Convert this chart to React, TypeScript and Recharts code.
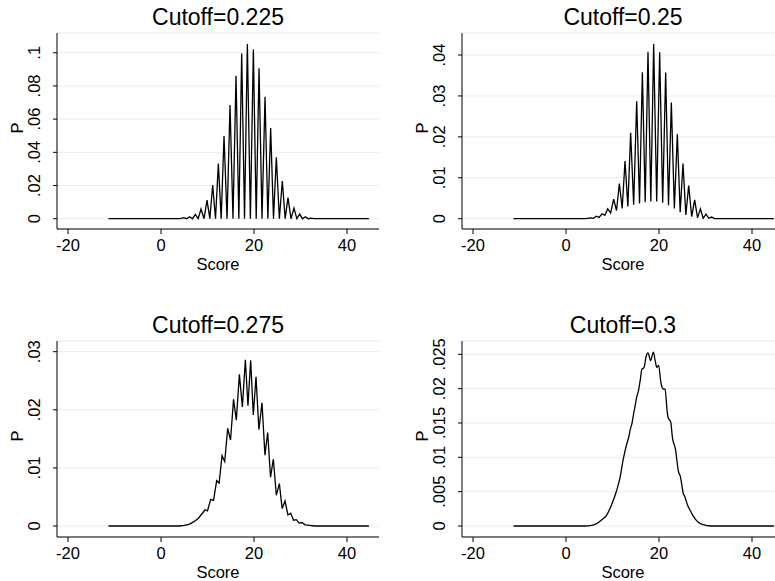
import React from "react";
import { LineChart, Line, XAxis, YAxis, CartesianGrid } from "recharts";

const FONT = '"Liberation Sans", Arial, sans-serif';

const xTicks = [-20, 0, 20, 40];

// Cutoff=0.225
const score225 = [
    -11.3, 4.2, 4.87, 5.5, 6.16, 6.77, 7.38, 7.99, 8.6, 9.25, 9.89, 10.5, 11.11, 11.72, 12.33, 12.94, 13.55,
    14.2, 14.84, 15.48, 16.13, 16.74, 17.35, 17.96, 18.57, 19.22, 19.86, 20.47, 21.08, 21.72, 22.37, 22.98,
    23.58, 24.19, 24.8, 25.45, 26.09, 26.7, 27.31, 27.95, 28.6, 29.21, 29.82, 30.43, 31.04, 31.65, 32.26, 32.9,
    44.7,
];
const p225 = [
    0, 0, 0.0006, 0, 0.0012, 0, 0.0026, 0, 0.0058, 0, 0.0112, 0, 0.0203, 0, 0.0333, 0, 0.0498, 0, 0.0685, 0,
    0.0861, 0, 0.0996, 0, 0.1052, 0, 0.102, 0, 0.0906, 0, 0.0735, 0, 0.0546, 0, 0.037, 0, 0.0227, 0, 0.0127, 0,
    0.0064, 0, 0.0028, 0, 0.0012, 0, 0.0004, 0, 0,
];
const yTicks225 = [0, 0.02, 0.04, 0.06, 0.08, 0.1];

// Cutoff=0.25
const score25 = [
    -11.3, 4.2, 5.3, 5.9, 6.5, 7.12, 7.74, 8.35, 8.96, 9.6, 10.25, 10.86, 11.47, 12.08, 12.69, 13.3, 13.9,
    14.55, 15.2, 15.81, 16.42, 17.03, 17.63, 18.24, 18.85, 19.5, 20.14, 20.79, 21.43, 22.04, 22.65, 23.3, 23.94,
    24.55, 25.16, 25.77, 26.38, 27.03, 27.67, 28.29, 28.9, 29.5, 30.1, 30.7, 31.3, 32, 44.7,
];
const p25 = [
    0, 0, 0.0002, 0.0001, 0.0006, 0.0003, 0.0012, 0.0008, 0.0024, 0.0014, 0.0048, 0.002, 0.0086, 0.0025, 0.0141,
    0.003, 0.021, 0.0034, 0.0287, 0.0037, 0.0358, 0.004, 0.0408, 0.0042, 0.0427, 0.0042, 0.0407, 0.0039, 0.0357,
    0.0033, 0.0284, 0.0025, 0.0206, 0.0016, 0.0135, 0.0009, 0.0081, 0.0005, 0.0046, 0.0002, 0.0024, 0.0001,
    0.0011, 0.0001, 0.0004, 0, 0,
];
const yTicks25 = [0, 0.01, 0.02, 0.03, 0.04];

// Cutoff=0.275
const score275 = [
    -11.3, 4, 5, 6, 7, 8, 8.9, 9.46, 10.0, 10.68, 11.3, 11.97, 12.5, 13.12, 13.7, 14.34, 14.95, 15.6, 16.2,
    16.85, 17.5, 18.14, 18.7, 19.28, 19.85, 20.43, 21.05, 21.72, 22.35, 22.94, 23.55, 24.16, 24.8, 25.45, 26.05,
    26.67, 27.3, 27.89, 28.5, 29.1, 29.7, 30.3, 31, 32, 33, 44.7,
];
const p275 = [
    0, 0, 0.0001, 0.0003, 0.0007, 0.0013, 0.0022, 0.0028, 0.0026, 0.0046, 0.0044, 0.0078, 0.0074, 0.0121,
    0.0111, 0.0168, 0.0148, 0.0218, 0.0182, 0.0261, 0.0205, 0.0286, 0.0207, 0.0285, 0.0191, 0.0257, 0.0166,
    0.0212, 0.0122, 0.0161, 0.0084, 0.0115, 0.0053, 0.0073, 0.003, 0.0043, 0.0019, 0.0022, 0.001, 0.0011,
    0.0005, 0.0006, 0.0002, 0.0001, 0, 0,
];
const yTicks275 = [0, 0.01, 0.02, 0.03];

// Cutoff=0.3
const score3 = [
    -11.3, 4, 5.5, 6.5, 7.7, 8.75, 9.8, 10.9, 11.6, 12.3, 13.0, 13.5, 13.8, 14.2, 14.5, 15.0, 15.2, 15.55, 16.0,
    16.3, 16.8, 17.2, 17.63, 18.2, 18.78, 19.2, 19.5, 19.9, 20.43, 20.8, 21.3, 21.8, 22.0, 22.5, 22.9, 23.5,
    24.2, 24.6, 25.2, 25.6, 26.1, 26.6, 27.4, 28.5, 29.5, 31, 44.7,
];
const p3 = [
    0, 0, 0.0001, 0.0003, 0.0009, 0.0016, 0.0031, 0.0052, 0.007, 0.0097, 0.0118, 0.013, 0.014, 0.015, 0.0162,
    0.018, 0.0188, 0.0196, 0.0214, 0.0228, 0.0231, 0.0246, 0.0252, 0.0241, 0.0253, 0.024, 0.0231, 0.0234,
    0.0208, 0.02, 0.0199, 0.0164, 0.0157, 0.0152, 0.0128, 0.0113, 0.0079, 0.0072, 0.0048, 0.0042, 0.0031,
    0.0024, 0.0014, 0.0005, 0.0002, 0, 0,
];
const yTicks3 = [0, 0.005, 0.01, 0.015, 0.02, 0.025];

const toRows = (xs: number[], ps: number[]) => xs.map((x, i) => ({ x, p: ps[i] }));

const fmt = (v: number) => (v === 0 ? "0" : String(v).replace(/^0\./, "."));

const YTick = (props: any) => {
    const { x, y, payload } = props;
    return (
        <text
            x={x}
            y={y}
            transform={`rotate(-90 ${x} ${y})`}
            textAnchor="middle"
            fontSize={16.5}
            fontFamily={FONT}
            fill="#000"
        >
            {fmt(payload.value)}
        </text>
    );
};

type PanelProps = {
    left: number;
    top: number;
    title: string;
    rows: { x: number; p: number }[];
    yDomain: [number, number];
    yTicks: number[];
    curve: "linear" | "monotone";
};

const Panel: React.FC<PanelProps> = ({ left, top, title, rows, yDomain, yTicks, curve }) => {
    return (
        <div style={{ position: "absolute", left, top, width: 400, height: 290 }}>
            <LineChart width={400} height={290} data={rows} margin={{ top: 33, right: 21, bottom: 0, left: 0 }}>
                <CartesianGrid vertical={false} stroke="#e6eef1" strokeWidth={1} />
                <XAxis
                    dataKey="x"
                    type="number"
                    domain={[-22.37, 46.88]}
                    ticks={xTicks}
                    allowDataOverflow
                    height={61}
                    tickSize={5}
                    tickMargin={5}
                    interval={0}
                    stroke="#000"
                    tick={{ fontSize: 16.5, fill: "#000", fontFamily: FONT }}
                />
                <YAxis
                    type="number"
                    domain={yDomain}
                    ticks={yTicks}
                    allowDataOverflow
                    width={57}
                    tickSize={4}
                    tickMargin={13}
                    interval={0}
                    stroke="#000"
                    tick={<YTick />}
                />
                <Line
                    type={curve}
                    dataKey="p"
                    stroke="#000"
                    strokeWidth={1.3}
                    dot={false}
                    isAnimationActive={false}
                />
            </LineChart>
            <svg
                width={400}
                height={290}
                style={{ position: "absolute", left: 0, top: 0, pointerEvents: "none" }}
                fontFamily={FONT}
            >
                <text x={218} y={25} textAnchor="middle" fontSize={23} fill="#000">
                    {title}
                </text>
                <text x={218} y={270} textAnchor="middle" fontSize={16.5} fill="#000">
                    Score
                </text>
                <text x={23} y={128} transform="rotate(-90 23 128)" textAnchor="middle" fontSize={16.5} fill="#000">
                    P
                </text>
            </svg>
        </div>
    );
};

const App: React.FC = () => {
    return (
        <div
            style={{
                position: "absolute",
                left: 0,
                top: 0,
                width: 775,
                height: 581,
                overflow: "hidden",
                background: "#fff",
                fontFamily: FONT,
            }}
        >
            <Panel
                left={0}
                top={0}
                title="Cutoff=0.225"
                rows={toRows(score225, p225)}
                yDomain={[-0.0062, 0.1119]}
                yTicks={yTicks225}
                curve="linear"
            />
            <Panel
                left={405}
                top={0}
                title="Cutoff=0.25"
                rows={toRows(score25, p25)}
                yDomain={[-0.00252, 0.04538]}
                yTicks={yTicks25}
                curve="linear"
            />
            <Panel
                left={0}
                top={308}
                title="Cutoff=0.275"
                rows={toRows(score275, p275)}
                yDomain={[-0.00189, 0.03184]}
                yTicks={yTicks275}
                curve="linear"
            />
            <Panel
                left={405}
                top={308}
                title="Cutoff=0.3"
                rows={toRows(score3, p3)}
                yDomain={[-0.0016, 0.02694]}
                yTicks={yTicks3}
                curve="monotone"
            />
        </div>
    );
};

export default App;
